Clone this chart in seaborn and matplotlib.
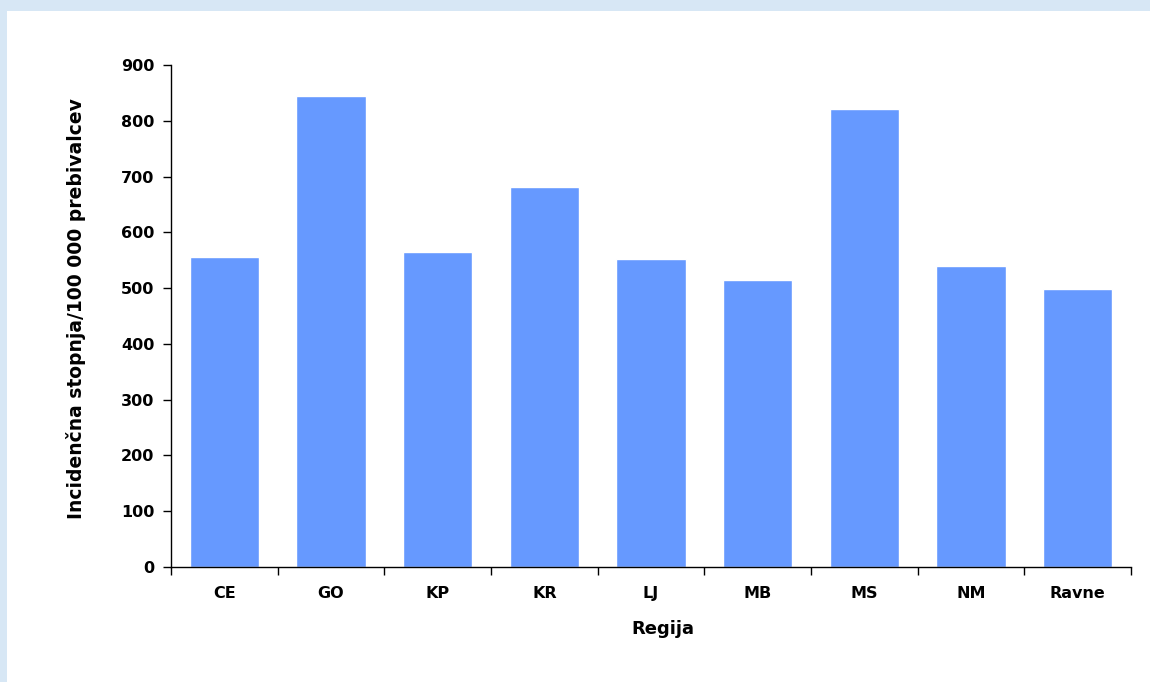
import matplotlib
matplotlib.use("Agg")
import matplotlib.pyplot as plt
import matplotlib.patches as mpatches
import seaborn as sns
import pandas as pd
import numpy as np

# Incidence per region (per 100 000 inhabitants)
regions = ["CE", "GO", "KP", "KR", "LJ", "MB", "MS", "NM", "Ravne"]
incidence = [556, 844, 565, 681, 552, 514, 822, 540, 498]
y_ticks = [0, 100, 200, 300, 400, 500, 600, 700, 800, 900]

df = pd.DataFrame({"Regija": regions, "Incidenca": incidence})

sns.set_theme(style="white")
plt.rcParams["font.family"] = ["DejaVu Sans"]
plt.rcParams["text.color"] = "black"
plt.rcParams["axes.labelcolor"] = "black"
plt.rcParams["xtick.color"] = "black"
plt.rcParams["ytick.color"] = "black"

fig = plt.figure(figsize=(11.5, 6.82), dpi=100)
fig.patch.set_facecolor("#d7e7f5")
# white panel with a thin light-blue frame on the left and top
fig.patches.append(mpatches.Rectangle((7 / 1150, 0), 1, 1 - 11 / 682,
                                      transform=fig.transFigure,
                                      facecolor="white", edgecolor="none",
                                      zorder=-10))

ax = fig.add_axes([171 / 1150, 1 - 567 / 682, 960 / 1150, 502 / 682])
ax.set_facecolor("none")

sns.barplot(data=df, x="Regija", y="Incidenca", color="#6699ff",
            saturation=1, width=0.65, ax=ax)

ax.set_xlim(-0.5, len(regions) - 0.5)
ax.set_ylim(0, 900)
ax.set_yticks(y_ticks)
ax.set_yticklabels([str(v) for v in y_ticks], fontsize=11.5, fontweight="bold")

# category boundaries carry the tick marks, labels sit in between
ax.set_xticks(np.arange(-0.5, len(regions), 1.0))
ax.set_xticklabels([])
ax.set_xticks(np.arange(len(regions)), minor=True)
ax.set_xticklabels(regions, minor=True, fontsize=11.5, fontweight="bold")
ax.tick_params(axis="x", which="major", direction="out", length=6,
               width=1, color="black", bottom=True)
ax.tick_params(axis="x", which="minor", length=0, pad=14)
ax.tick_params(axis="y", direction="out", length=6, width=1,
               color="black", left=True, pad=6)

for side in ["top", "right"]:
    ax.spines[side].set_visible(False)
for side in ["left", "bottom"]:
    ax.spines[side].set_color("black")
    ax.spines[side].set_linewidth(1)

ax.set_xlabel("Regija", fontsize=13, fontweight="bold")
ax.xaxis.set_label_coords(0.5125, -0.106)
ax.set_ylabel("Incidenčna stopnja/100 000 prebivalcev", fontsize=13.5,
              fontweight="bold")
ax.yaxis.set_label_coords(-0.089, 0.514)

fig.savefig("out.png", dpi=100, facecolor=fig.get_facecolor())
